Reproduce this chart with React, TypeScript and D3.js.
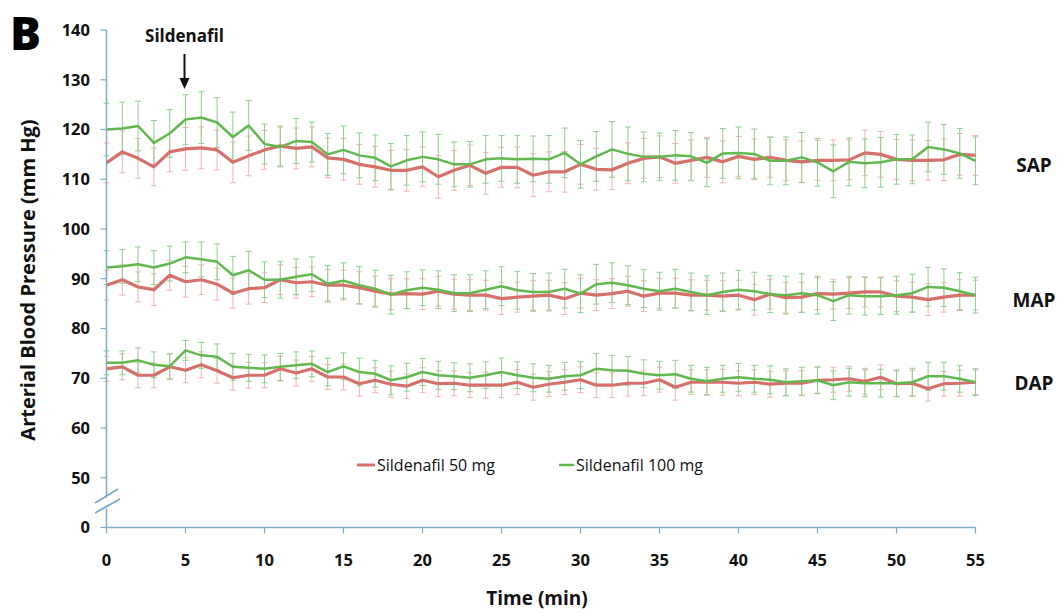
import React from "react";
import * as d3 from "d3";

const minutes = d3.range(0, 56);

const sap50 = [113.3,115.5,114.2,112.5,115.5,116.1,116.3,115.9,113.4,114.7,115.9,116.7,116.2,116.5,114.3,114.0,113.0,112.5,111.8,111.8,112.5,110.5,111.8,112.8,111.2,112.4,112.4,110.8,111.5,111.5,113.0,112.0,111.9,113.2,114.2,114.5,113.2,113.8,114.4,113.5,114.6,114.0,114.4,113.8,113.5,113.8,113.8,113.9,115.3,115.0,114.0,113.8,113.8,113.9,115.0,114.8];
const sap100 = [120.0,120.2,120.7,117.3,119.2,122.0,122.4,121.4,118.5,120.8,117.1,116.5,117.7,117.5,115.0,115.9,114.8,114.3,112.6,113.8,114.5,114.0,113.0,113.0,114.0,114.2,114.0,114.1,114.0,115.3,113.0,114.6,116.0,115.1,114.5,114.5,114.8,114.6,113.3,115.2,115.3,115.1,113.7,113.7,114.4,113.4,111.6,113.5,113.2,113.4,114.0,114.0,116.5,116.0,115.2,113.7];
const map50 = [88.7,89.8,88.35,87.8,90.7,89.4,89.8,88.9,87.1,88.0,88.2,89.8,89.2,89.4,88.7,88.7,88.2,87.5,86.9,87.0,86.9,87.5,86.9,86.7,86.7,86.0,86.3,86.5,86.7,86.0,87.1,86.7,87.0,87.5,86.5,87.1,87.1,86.7,86.7,86.5,86.7,85.8,86.9,86.2,86.3,87.0,86.9,87.1,87.35,87.35,86.5,86.3,85.8,86.3,86.7,86.7];
const map100 = [92.25,92.5,92.9,92.25,93.05,94.3,93.9,93.4,90.7,91.7,89.8,89.8,90.4,90.9,89.0,89.6,88.7,88.0,86.8,87.7,88.2,87.8,87.1,87.1,87.8,88.5,87.7,87.35,87.35,88.0,87.0,88.9,89.2,88.7,88.0,87.5,88.0,87.35,86.7,87.35,87.8,87.5,86.9,86.7,87.1,86.7,85.5,86.7,86.5,86.5,86.7,87.1,88.35,88.2,87.5,86.7];
const dap50 = [71.9,72.3,70.6,70.6,72.3,71.6,72.7,71.5,70.1,70.6,70.6,71.9,71.05,71.9,70.25,70.25,68.9,69.6,68.8,68.4,69.6,68.9,69.0,68.6,68.6,68.6,69.2,68.2,68.8,69.2,69.7,68.6,68.6,69.0,69.0,69.7,68.2,69.2,69.2,69.2,69.0,69.2,68.8,69.0,69.0,69.6,69.7,69.9,69.4,70.2,68.9,69.0,67.9,68.9,69.0,69.2];
const dap100 = [73.1,73.1,73.6,72.7,72.4,75.6,74.6,74.3,72.3,72.1,71.9,72.3,72.6,72.9,71.25,72.4,71.25,70.9,69.6,70.2,71.25,70.6,70.4,70.1,70.6,71.25,70.6,70.1,69.9,70.4,70.6,71.9,71.6,71.5,70.9,70.6,70.8,69.9,69.4,69.9,70.2,69.9,69.7,69.2,69.4,69.6,68.6,69.2,69.0,69.0,69.0,69.2,70.4,70.4,69.9,69.2];

const sap50Err = [4.0,4.2,4.0,3.8,4.0,4.3,4.2,4.0,4.1,4.0,3.9,4.0,4.1,4.0,4.0,4.2,4.0,4.1,4.0,4.2,4.0,4.3,4.0,4.1,4.2,4.0,4.1,4.3,4.0,4.1,4.0,4.2,4.0,4.1,4.0,4.2,4.0,4.1,4.0,4.2,4.0,4.1,4.0,4.1,4.2,4.0,4.1,4.0,4.6,4.6,4.0,4.1,4.0,4.2,4.2,4.0];
const sap100Err = [5.3,5.3,5.0,4.5,4.8,5.0,5.2,5.0,5.0,5.0,4.0,4.0,4.5,4.0,4.2,4.8,4.5,4.6,4.6,5.0,5.0,5.0,4.5,4.6,4.8,4.6,4.8,4.6,4.8,5.0,4.8,5.0,5.6,5.4,5.0,4.8,5.0,4.8,4.8,5.0,5.2,5.0,4.8,4.8,5.0,4.8,5.3,4.8,4.9,5.0,5.0,4.9,5.0,5.0,5.0,4.8];
const map50Err = [3.0,3.1,3.0,3.2,3.0,3.1,3.0,3.2,3.0,3.1,3.0,3.0,3.1,3.0,3.1,3.0,3.2,3.0,3.1,3.0,3.1,3.0,3.0,3.1,3.0,3.2,3.0,3.1,3.0,3.2,3.0,3.1,3.0,3.0,3.1,3.0,3.0,3.1,3.0,3.1,3.0,3.1,3.0,3.1,3.0,3.2,3.0,3.1,3.0,3.0,3.1,3.0,3.2,3.0,3.1,3.0];
const map100Err = [3.4,3.4,3.5,3.4,3.5,3.1,3.5,3.6,3.8,3.8,3.6,3.7,3.6,3.5,3.7,3.6,3.8,3.7,3.9,3.7,3.6,3.8,3.7,3.7,3.8,3.9,3.8,3.7,3.8,3.9,3.8,4.0,4.0,3.9,3.8,3.8,3.9,3.8,3.9,3.8,3.9,3.8,3.7,3.8,3.9,3.8,3.9,3.8,3.8,3.7,3.8,3.8,3.9,3.8,3.7,3.6];
const dap50Err = [2.5,2.6,2.5,2.5,2.6,2.5,2.6,2.5,2.5,2.6,2.5,2.5,2.6,2.5,2.5,2.6,2.5,2.5,2.6,2.5,2.5,2.6,2.5,2.5,2.6,2.5,2.5,2.6,2.5,2.5,2.6,2.5,2.5,2.6,2.5,2.5,2.6,2.5,2.5,2.6,2.5,2.5,2.6,2.5,2.5,2.6,2.5,2.5,2.6,2.5,2.5,2.6,2.5,2.5,2.6,2.5];
const dap100Err = [2.4,2.4,2.5,2.6,2.5,2.0,2.6,2.6,2.7,2.7,2.8,2.7,2.7,2.6,2.8,2.7,2.8,2.7,2.9,2.8,2.7,2.8,2.7,2.8,2.7,2.8,2.7,2.8,2.7,2.8,2.7,3.1,3.0,2.9,2.8,2.8,2.8,2.7,2.8,2.7,2.8,2.7,2.8,2.7,2.8,2.7,2.9,2.8,2.7,2.8,2.7,2.8,2.8,2.8,2.7,2.7];

const yTickValues = [40, 50, 60, 70, 80, 90, 100, 110, 120, 130, 140];
const yTickLabels = ["0", "50", "60", "70", "80", "90", "100", "110", "120", "130", "140"];
const xTickValues = [0, 5, 10, 15, 20, 25, 30, 35, 40, 45, 50, 55];

const seriesNames = ["Sildenafil 50 mg", "Sildenafil 100 mg"];
const groupLabels = ["SAP", "MAP", "DAP"];

const RED = "#d6706b";
const GREEN = "#62b84f";
const RED_ERR = "#f0b4b0";
const GREEN_ERR = "#8ed08e";
const AXIS = "#7faccb";
const FONT = "'Open Sans', Lato, sans-serif";

export default function App() {
  const W = 1059, H = 613;
  const x = d3.scaleLinear().domain([0, 55]).range([106.5, 975.5]);
  const y = d3.scaleLinear().domain([40, 140]).range([527.5, 30]);

  const groups = [
    { label: groupLabels[0], v50: sap50, v100: sap100, e50: sap50Err, e100: sap100Err, ly: 165 },
    { label: groupLabels[1], v50: map50, v100: map100, e50: map50Err, e100: map100Err, ly: 300 },
    { label: groupLabels[2], v50: dap50, v100: dap100, e50: dap50Err, e100: dap100Err, ly: 383 },
  ];

  const line = d3.line<number>().x((_, i) => x(minutes[i])).y((d) => y(d));

  const errBars = (vals: number[], errs: number[], color: string, key: string) =>
    vals.map((v, i) => {
      const cx = x(minutes[i]);
      const y1 = y(v + errs[i]);
      const y2 = y(v - errs[i]);
      return (
        <g key={key + i} stroke={color} strokeWidth={1}>
          <line x1={cx} x2={cx} y1={y1} y2={y2} />
          <line x1={cx - 3} x2={cx + 3} y1={y1} y2={y1} />
          <line x1={cx - 3} x2={cx + 3} y1={y2} y2={y2} />
        </g>
      );
    });

  return (
    <svg width={W} height={H} style={{ position: "absolute", left: 0, top: 0, background: "#fff" }}>
      <rect width={W} height={H} fill="#fff" />
      {groups.map((g) => (
        <g key={"e" + g.label}>
          {errBars(g.v50, g.e50, RED_ERR, "r" + g.label)}
          {errBars(g.v100, g.e100, GREEN_ERR, "g" + g.label)}
        </g>
      ))}
      {groups.map((g) => (
        <g key={"l" + g.label} fill="none" strokeLinejoin="round">
          <path d={line(g.v50) || ""} stroke={RED} strokeWidth={3.2} />
          <path d={line(g.v100) || ""} stroke={GREEN} strokeWidth={2.5} />
        </g>
      ))}
      <line x1={x(0)} x2={x(0)} y1={y(140)} y2={y(40)} stroke={AXIS} strokeWidth={1.5} />
      <line x1={x(0)} x2={x(55)} y1={y(40)} y2={y(40)} stroke={AXIS} strokeWidth={1.5} />
      {yTickValues.map((v, i) => (
        <g key={"yt" + v}>
          <line x1={x(0) - 6} x2={x(0)} y1={y(v)} y2={y(v)} stroke={AXIS} strokeWidth={1.2} />
          <text x={90} y={y(v)} dy="0.36em" textAnchor="end" fontFamily={FONT} fontWeight={700} fontSize={16.5} fill="#111">
            {yTickLabels[i]}
          </text>
        </g>
      ))}
      {xTickValues.map((v) => (
        <g key={"xt" + v}>
          <line x1={x(v)} x2={x(v)} y1={y(40)} y2={y(40) + 6} stroke={AXIS} strokeWidth={1.2} />
          <text x={x(v)} y={566} textAnchor="middle" fontFamily={FONT} fontWeight={700} fontSize={16.5} fill="#111">
            {v}
          </text>
        </g>
      ))}
      <polygon points="94,505 119,490 121,500 96,515" fill="#fff" />
      <line x1={95} y1={503} x2={118} y2={489} stroke={AXIS} strokeWidth={2} />
      <line x1={95} y1={513} x2={120} y2={499} stroke={AXIS} strokeWidth={2} />
      <text x={537} y={605} textAnchor="middle" fontFamily={FONT} fontWeight={700} fontSize={19} fill="#111">
        Time (min)
      </text>
      <text transform="translate(35,280) rotate(-90)" textAnchor="middle" fontFamily={FONT} fontWeight={700} fontSize={20} fill="#111">
        Arterial Blood Pressure (mm Hg)
      </text>
      <text x={10} y={50} fontFamily={FONT} fontWeight={800} fontSize={46} fill="#000">B</text>
      <text x={x(5) - 1} y={42} textAnchor="middle" fontFamily={FONT} fontWeight={700} fontSize={17} fill="#111">
        Sildenafil
      </text>
      <line x1={x(5) - 1} x2={x(5) - 1} y1={54} y2={82} stroke="#111" strokeWidth={2} />
      <polygon points={`${x(5) - 6},${78} ${x(5) + 4},${78} ${x(5) - 1},${89}`} fill="#111" />
      {groups.map((g) => (
        <text key={"gl" + g.label} x={1034} y={g.ly} dy="0.36em" textAnchor="middle" fontFamily={FONT} fontWeight={700} fontSize={19} fill="#111">
          {g.label}
        </text>
      ))}
      <line x1={357} x2={375} y1={465} y2={465} stroke={RED} strokeWidth={3} />
      <text x={377} y={465} dy="0.36em" fontFamily={FONT} fontSize={16} fill="#111">{seriesNames[0]}</text>
      <line x1={559} x2={574} y1={465} y2={465} stroke={GREEN} strokeWidth={2.5} />
      <text x={576} y={465} dy="0.36em" fontFamily={FONT} fontSize={16} fill="#111">{seriesNames[1]}</text>
    </svg>
  );
}
